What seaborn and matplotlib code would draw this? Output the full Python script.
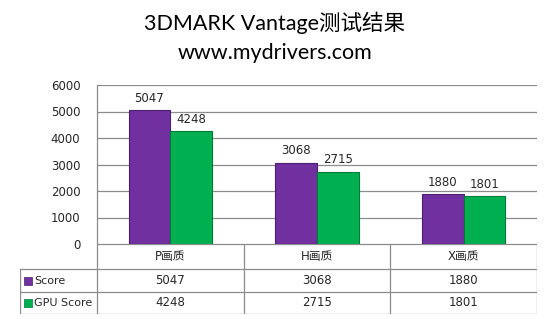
import pandas as pd
import matplotlib.pyplot as plt
import seaborn as sns

# data
categories = ['P画质', 'H画质', 'X画质']
series = ['Score', 'GPU Score']
score = [5047, 3068, 1880]
gpu_score = [4248, 2715, 1801]
yticks = [0, 1000, 2000, 3000, 4000, 5000, 6000]

colors = ['#7030A0', '#00B050']
edges = ['#4B1F6E', '#007A38']

sns.set_style('white')
plt.rcParams['font.family'] = ['DejaVu Sans', 'Noto Sans CJK SC']

df = pd.DataFrame({
    'cat': categories * 2,
    'series': [series[0]] * 3 + [series[1]] * 3,
    'value': score + gpu_score,
})

W, H = 550, 319
fs = 8.5
fig = plt.figure(figsize=(5.5, 3.19), dpi=100)
fig.patch.set_facecolor('white')

# plot area in pixels: x 97-537, y 85-244
ax = fig.add_axes([97 / W, 1 - 244 / H, 440 / W, 159 / H])
sns.barplot(data=df, x='cat', y='value', hue='series', order=categories,
            hue_order=series, palette=colors, width=0.57, gap=0,
            saturation=1, legend=False, ax=ax)
for cont, ec in zip(ax.containers, edges):
    for bar in cont:
        bar.set_edgecolor(ec)
        bar.set_linewidth(0.8)
    ax.bar_label(cont, labels=[str(int(b.get_height())) for b in cont],
                 padding=4, fontsize=fs)

ax.set_xlim(-0.5, 2.5)
ax.set_ylim(0, 6000)
ax.set_yticks(yticks)
ax.set_yticklabels([str(t) for t in yticks], fontsize=fs)
ax.tick_params(axis='y', length=0, pad=12)
ax.set_xticks([])
ax.set_xlabel('')
ax.set_ylabel('')
ax.yaxis.grid(True, color='#8C8C8C', linewidth=0.9)
ax.set_axisbelow(True)
for s in ['top', 'right', 'bottom']:
    ax.spines[s].set_visible(False)
ax.spines['left'].set_color('#8C8C8C')
ax.spines['left'].set_linewidth(0.9)

# data table below the plot: x 20-537, y 244-314
px_per_unit = 440 / 3
left_unit = -0.5 - 77 / px_per_unit
tab = fig.add_axes([20 / W, 1 - 314 / H, 517 / W, 70 / H])
tab.set_xlim(left_unit, 2.5)
rows_px = [244, 269, 292, 314]
row_y = [314 - r for r in rows_px]  # 70, 45, 22, 0
tab.set_ylim(0, 70)
tab.axis('off')
lc = '#8C8C8C'
lw = 0.9
# horizontal lines
tab.plot([-0.5, 2.5], [row_y[0]] * 2, color=lc, lw=lw)
for y in row_y[1:]:
    tab.plot([left_unit, 2.5], [y, y], color=lc, lw=lw)
# vertical lines
for x in [-0.5, 0.5, 1.5, 2.5]:
    tab.plot([x, x], [0, row_y[0]], color=lc, lw=lw)
tab.plot([left_unit, left_unit], [0, row_y[1]], color=lc, lw=lw)

for i, c in enumerate(categories):
    tab.text(i, (row_y[0] + row_y[1]) / 2, c, ha='center', va='center', fontsize=fs)
    tab.text(i, (row_y[1] + row_y[2]) / 2, str(score[i]), ha='center', va='center', fontsize=fs)
    tab.text(i, (row_y[2] + row_y[3]) / 2, str(gpu_score[i]), ha='center', va='center', fontsize=fs)

for k, (name, col, ec) in enumerate(zip(series, colors, edges)):
    yc = (row_y[1 + k] + row_y[2 + k]) / 2
    tab.scatter([left_unit + 8 / px_per_unit], [yc], marker='s', s=30,
                color=col, edgecolors=ec, linewidths=0.5, zorder=3)
    tab.text(left_unit + 14 / px_per_unit, yc, name, ha='left', va='center', fontsize=8)

# titles
fig.text(0.5, 1 - 23 / H, '3DMARK Vantage测试结果', ha='center', va='center',
         fontsize=15.5, color='black', family=['Lato', 'Noto Sans CJK SC'])
fig.text(0.5, 1 - 53 / H, 'www.mydrivers.com', ha='center', va='center',
         fontsize=15.5, color='black', family=['Lato', 'Noto Sans CJK SC'])

fig.savefig('out.png', dpi=100, facecolor='white')
